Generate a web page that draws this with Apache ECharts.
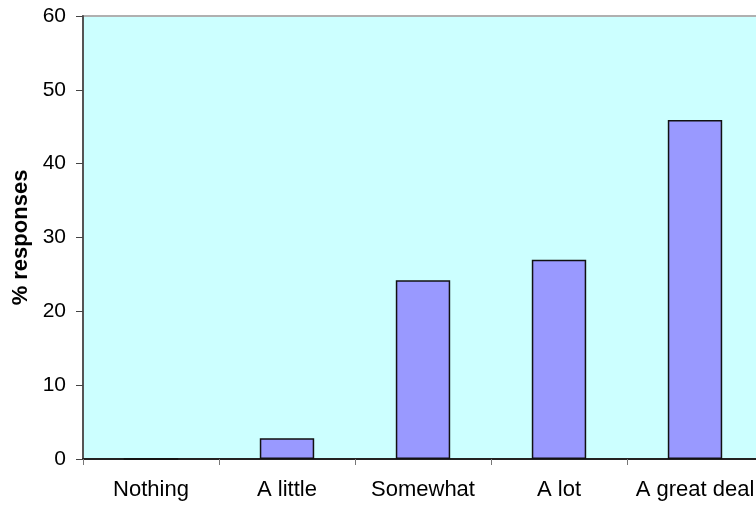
<!DOCTYPE html>
<html>
<head>
<meta charset="utf-8">
<script src="https://cdn.jsdelivr.net/npm/echarts@6/dist/echarts.min.js"></script>
<style>
	html, body { margin: 0; padding: 0; background: #fff; overflow: hidden; }
	#chart { width: 763px; height: 508px; }
</style>
</head>
<body>
<div id="chart"></div>
<script>
// categories and % responses
const categories = ['Nothing', 'A little', 'Somewhat', 'A lot', 'A great deal']
const responses = [0, 2.8, 24.2, 27, 45.9]
const yTicks = { min: 0, max: 60, interval: 10 }

const chart = echarts.init(document.getElementById('chart'))

chart.setOption({
	animation: false,
	grid: {
		left: 83,
		right: 0,
		top: 16,
		bottom: 49,
		show: true,
		backgroundColor: '#ccffff',
		borderColor: '#b0b0b0',
		borderWidth: 2
	},
	xAxis: {
		type: 'category',
		data: categories,
		axisLine: { lineStyle: { color: '#222', width: 2 } },
		axisTick: { show: true, interval: 0, alignWithLabel: false, length: 6, lineStyle: { color: '#777' } },
		axisLabel: { interval: 0, hideOverlap: false, color: '#000', fontFamily: 'Liberation Sans', fontSize: 22, margin: 20 }
	},
	yAxis: {
		type: 'value',
		min: yTicks.min,
		max: yTicks.max,
		interval: yTicks.interval,
		name: '% responses',
		nameLocation: 'middle',
		nameGap: 51,
		nameTextStyle: { color: '#000', fontFamily: 'Liberation Sans', fontSize: 22, fontWeight: 'bold' },
		splitLine: { show: false },
		axisLine: { show: true, lineStyle: { color: '#555', width: 2 } },
		axisTick: { show: true, length: 7, lineStyle: { color: '#444' } },
		axisLabel: { color: '#000', fontFamily: 'Liberation Sans', fontSize: 21, margin: 17 }
	},
	series: [
		{
			type: 'bar',
			data: responses,
			barWidth: '40%',
			itemStyle: { color: '#9999ff', borderColor: '#111', borderWidth: 1.5 }
		}
	]
})
</script>
</body>
</html>
